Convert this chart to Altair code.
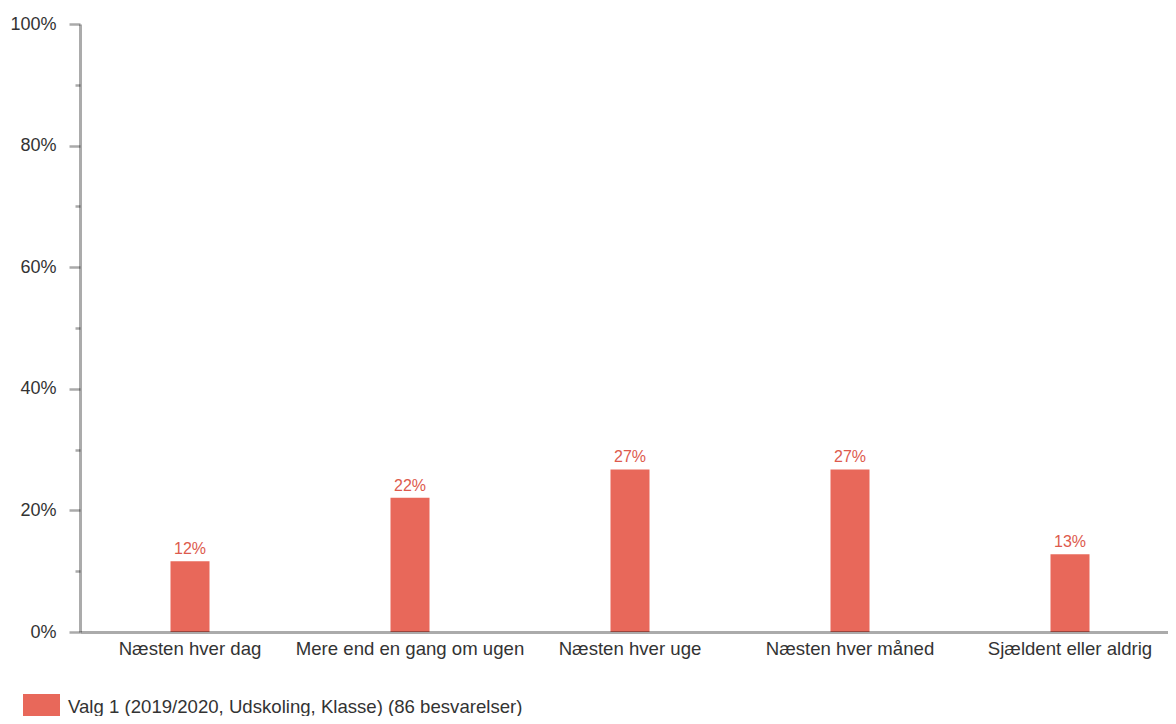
import altair as alt
import pandas as pd

categories = ["Næsten hver dag", "Mere end en gang om ugen", "Næsten hver uge",
              "Næsten hver måned", "Sjældent eller aldrig"]
counts = [10, 19, 23, 23, 11]
total = 86
series_name = "Valg 1 (2019/2020, Udskoling, Klasse) (86 besvarelser)"
y_ticks = [0.0, 0.1, 0.2, 0.3, 0.4, 0.5, 0.6, 0.7, 0.8, 0.9, 1.0]

df = pd.DataFrame({
    "kategori": categories,
    "andel": [c / total for c in counts],
    "serie": [series_name] * len(categories),
})

FONT = "Liberation Sans"
TEXT = "#333333"
BAR = "#E8685A"

x = alt.X(
    "kategori:N", sort=categories, title=None,
    scale=alt.Scale(range=[0, 1100], paddingInner=0, paddingOuter=0),
    axis=alt.Axis(labelAngle=0, ticks=False, labelPadding=7, labelFontSize=18.6,
                  labelColor=TEXT, labelFont=FONT, labelLimit=400,
                  domainColor="#000000", domainOpacity=0.33, domainWidth=3, zindex=1),
)
y = alt.Y(
    "andel:Q", title=None, scale=alt.Scale(domain=[0, 1]),
    axis=alt.Axis(values=y_ticks, format=".0%",
                  labelExpr="round(datum.value*10) % 2 == 0 ? datum.label : ''",
                  tickSize=11, tickWidth=2.5, tickColor="#aaaaaa",
                  tickDash={"condition": {"test": "round(datum.value*10) % 2 == 1",
                                          "value": [5, 30]},
                            "value": [30, 0]},
                  labelPadding=13, labelFontSize=18, labelColor=TEXT, labelFont=FONT,
                  domainColor="#000000", domainOpacity=0.33, domainWidth=3,
                  grid=False, zindex=1),
)

bars = alt.Chart(df).mark_bar(size=39).encode(
    x=x, y=y,
    color=alt.Color("serie:N", scale=alt.Scale(range=[BAR]),
                    legend=alt.Legend(title=None, orient="none", legendX=-57, legendY=670,
                                      symbolType="square", symbolSize=1369,
                                      symbolStrokeWidth=0, symbolOpacity=1,
                                      labelFontSize=18.6, labelFont=FONT,
                                      labelBaseline="alphabetic",
                                      labelColor=TEXT, labelOffset=8, labelLimit=800)),
)

labels = alt.Chart(df).mark_text(baseline="bottom", dy=-4, fontSize=16, font=FONT,
                                 color="#DD5A4D").encode(
    x=alt.X("kategori:N", sort=categories),
    y=alt.Y("andel:Q"),
    text=alt.Text("andel:Q", format=".0%"),
)

chart = (bars + labels).properties(
    width=1088, height=608,
    autosize=alt.AutoSizeParams(type="none"),
    padding={"left": 72, "top": 16, "right": 0, "bottom": 84},
).configure_view(stroke=None)

chart.save("out.html", embed_options={"renderer": "svg", "actions": False})
